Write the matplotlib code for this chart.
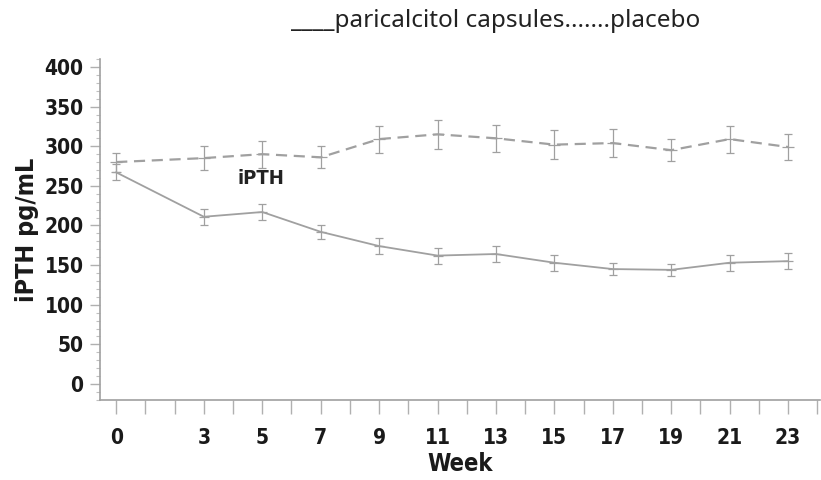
import matplotlib.pyplot as plt
from matplotlib.ticker import MultipleLocator

# Datos
semanas = [0, 3, 5, 7, 9, 11, 13, 15, 17, 19, 21, 23]
paricalcitol = [267, 211, 217, 192, 174, 162, 164, 153, 145, 144, 153, 155]
paricalcitol_err = [10, 10, 10, 9, 10, 10, 10, 10, 8, 8, 10, 10]
placebo = [280, 285, 290, 286, 309, 315, 310, 302, 304, 295, 309, 299]
placebo_err = [12, 15, 17, 14, 17, 18, 17, 18, 18, 14, 17, 17]
etiquetas_x = [0, 3, 5, 7, 9, 11, 13, 15, 17, 19, 21, 23]

fuente = ['DejaVu Sans']
gris = '#a0a0a0'

fig = plt.figure(figsize=(8.21, 4.8), dpi=100)
ax = fig.add_axes([0.122, 0.167, 0.877, 0.71])

ax.errorbar(semanas, paricalcitol, yerr=paricalcitol_err, color=gris, lw=1.3,
            ecolor=gris, elinewidth=0.9, capsize=3, capthick=0.9)
ax.errorbar(semanas, placebo, yerr=placebo_err, color=gris, lw=1.6, ls=(0, (5, 3)),
            ecolor=gris, elinewidth=0.9, capsize=3, capthick=0.9)
# marca horizontal corta en cada punto
ax.plot(semanas, placebo, ls='none', marker='_', ms=9, color=gris, mew=0.9)
ax.plot(semanas, paricalcitol, ls='none', marker='_', ms=7, color=gris, mew=0.9)

ax.text(4.15, 252, 'iPTH', family=fuente, fontweight='bold', fontstretch='condensed',
        fontsize=14.5, color='#222222')

ax.set_xlim(-0.55, 24.1)
ax.set_ylim(-20, 410)
ax.set_xticks(etiquetas_x)
ax.xaxis.set_minor_locator(MultipleLocator(1))
ax.set_yticks(range(0, 401, 50))
ax.yaxis.set_minor_locator(MultipleLocator(10))

for s in ['top', 'right']:
    ax.spines[s].set_visible(False)
for s in ['left', 'bottom']:
    ax.spines[s].set_color(gris)
    ax.spines[s].set_linewidth(1.2)

ax.tick_params(axis='x', which='both', direction='out', length=10, width=1, color='#b0b0b0', pad=10)
ax.tick_params(axis='y', which='major', direction='out', length=7, width=1, color='#b0b0b0', pad=5)
ax.tick_params(axis='y', which='minor', direction='out', length=3, width=0.8, color='#c0c0c0')

for lab in ax.get_xticklabels() + ax.get_yticklabels():
    lab.set_family(fuente)
    lab.set_fontweight('bold')
    lab.set_fontstretch('condensed')
    lab.set_fontsize(15)
    lab.set_color('#1a1a1a')

ax.set_xlabel('Week', family=fuente, fontweight='bold', fontstretch='condensed',
              fontsize=17, labelpad=3, color='#1a1a1a')
ax.set_ylabel('iPTH pg/mL', family=fuente, fontweight='bold', fontstretch='condensed',
              fontsize=18, labelpad=4, color='#1a1a1a')

fig.text(0.604, 0.957, '____paricalcitol capsules.......placebo', ha='center', va='center',
         family=['Noto Sans', 'DejaVu Sans'], fontsize=17.5, color='#222222')

fig.savefig('out.png', dpi=100)
